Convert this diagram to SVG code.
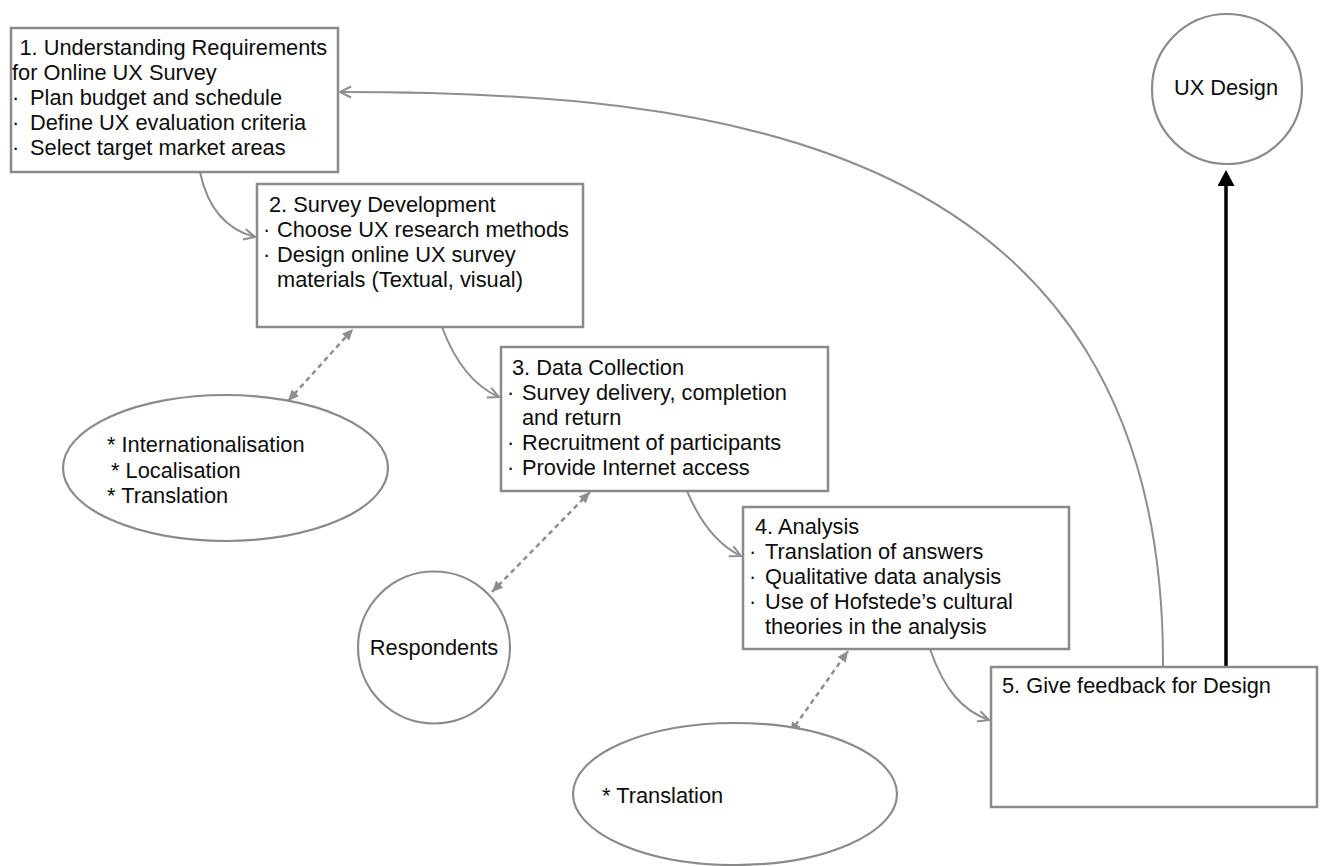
<svg xmlns="http://www.w3.org/2000/svg" width="1322" height="866" viewBox="0 0 1322 866">
<style>
  .box{fill:#fff;stroke:#8a8a8a;stroke-width:2.5}
  .shape{fill:#fff;stroke:#8a8a8a;stroke-width:2.2}
  .t{font-family:"Liberation Sans",Arial,Helvetica,sans-serif;font-size:21.8px;fill:#0d0d0d}
  .flow{fill:none;stroke:#8d8e93;stroke-width:2}
  .dash{fill:none;stroke:#8d8e93;stroke-width:2.5;stroke-dasharray:5 4}
  .bold{fill:none;stroke:#000;stroke-width:3.5}
</style>
<defs>
  <marker id="open" viewBox="0 0 14 14" refX="13" refY="7" markerWidth="14" markerHeight="14" markerUnits="userSpaceOnUse" orient="auto">
    <path d="M2,1.5 L13,7 L2,12.5" fill="none" stroke="#8d8e93" stroke-width="2"/>
  </marker>
  <marker id="tri" viewBox="0 0 11 10" refX="11" refY="5" markerWidth="11" markerHeight="10" markerUnits="userSpaceOnUse" orient="auto-start-reverse">
    <path d="M0,0 L11,5 L0,10 z" fill="#8d8e93"/>
  </marker>
  <marker id="black" viewBox="0 0 16 17" refX="10" refY="8.5" markerWidth="16" markerHeight="17" markerUnits="userSpaceOnUse" orient="auto">
    <path d="M0,0 L16,8.5 L0,17 z" fill="#000"/>
  </marker>
</defs>
<rect width="1322" height="866" fill="#fff"/>

<g id="connectors">
  <path class="flow" d="M200,172 C208,210 228,230 255,237" marker-end="url(#open)"/>
  <path class="flow" d="M442,327 C455,362 474,386 499,397" marker-end="url(#open)"/>
  <path class="flow" d="M687,491 C700,522 718,545 741,556" marker-end="url(#open)"/>
  <path class="flow" d="M930,649 C944,690 963,711 989,720" marker-end="url(#open)"/>
  <path class="flow" d="M1163,666 C1165,130 700,92 340,92" marker-end="url(#open)"/>
  <line class="dash" x1="288" y1="401" x2="353" y2="329" marker-start="url(#tri)" marker-end="url(#tri)"/>
  <line class="dash" x1="492" y1="592" x2="590" y2="492" marker-start="url(#tri)" marker-end="url(#tri)"/>
  <line class="dash" x1="790" y1="733" x2="848" y2="651" marker-start="url(#tri)" marker-end="url(#tri)"/>
  <line class="bold" x1="1226" y1="666" x2="1226" y2="176" marker-end="url(#black)"/>
</g>

<g id="node1">
  <rect class="box" x="11" y="28" width="327" height="144"/>
  <text class="t" x="19.5" y="55">1. Understanding Requirements</text>
  <text class="t" x="12" y="80">for Online UX Survey</text>
  <text class="t" y="105"><tspan x="12">·</tspan><tspan x="30">Plan budget and schedule</tspan></text>
  <text class="t" y="130"><tspan x="12">·</tspan><tspan x="30">Define UX evaluation criteria</tspan></text>
  <text class="t" y="155"><tspan x="12">·</tspan><tspan x="30">Select target market areas</tspan></text>
</g>

<g id="node2">
  <rect class="box" x="257" y="184" width="326" height="143"/>
  <text class="t" x="269" y="212">2. Survey Development</text>
  <text class="t" y="237"><tspan x="263">·</tspan><tspan x="277">Choose UX research methods</tspan></text>
  <text class="t" y="262"><tspan x="263">·</tspan><tspan x="277">Design online UX survey</tspan></text>
  <text class="t" x="277" y="287">materials (Textual, visual)</text>
</g>

<g id="node3">
  <rect class="box" x="501" y="347" width="327" height="144"/>
  <text class="t" x="512" y="375">3. Data Collection</text>
  <text class="t" y="400"><tspan x="507">·</tspan><tspan x="522">Survey delivery, completion</tspan></text>
  <text class="t" x="522" y="425">and return</text>
  <text class="t" y="450"><tspan x="507">·</tspan><tspan x="522">Recruitment of participants</tspan></text>
  <text class="t" y="475"><tspan x="507">·</tspan><tspan x="522">Provide Internet access</tspan></text>
</g>

<g id="node4">
  <rect class="box" x="743" y="507" width="326" height="142"/>
  <text class="t" x="755" y="534">4. Analysis</text>
  <text class="t" y="559"><tspan x="749">·</tspan><tspan x="765">Translation of answers</tspan></text>
  <text class="t" y="584"><tspan x="749">·</tspan><tspan x="765">Qualitative data analysis</tspan></text>
  <text class="t" y="609"><tspan x="749">·</tspan><tspan x="765">Use of Hofstede’s cultural</tspan></text>
  <text class="t" x="765" y="634">theories in the analysis</text>
</g>

<g id="node5">
  <rect class="box" x="991" y="667" width="326" height="140"/>
  <text class="t" x="1002" y="693">5. Give feedback for Design</text>
</g>

<g id="uxdesign">
  <circle class="shape" cx="1227" cy="89" r="75"/>
  <text class="t" x="1226" y="95" text-anchor="middle">UX Design</text>
</g>

<g id="i18n">
  <ellipse class="shape" cx="225.5" cy="468" rx="162.5" ry="73"/>
  <text class="t" x="107" y="452">* Internationalisation</text>
  <text class="t" x="111" y="478">* Localisation</text>
  <text class="t" x="107" y="503">* Translation</text>
</g>

<g id="respondents">
  <circle class="shape" cx="434" cy="647.5" r="76"/>
  <text class="t" x="434" y="655" text-anchor="middle">Respondents</text>
</g>

<g id="translation">
  <ellipse class="shape" cx="735" cy="794" rx="162" ry="71"/>
  <text class="t" x="602" y="803">* Translation</text>
</g>
</svg>
